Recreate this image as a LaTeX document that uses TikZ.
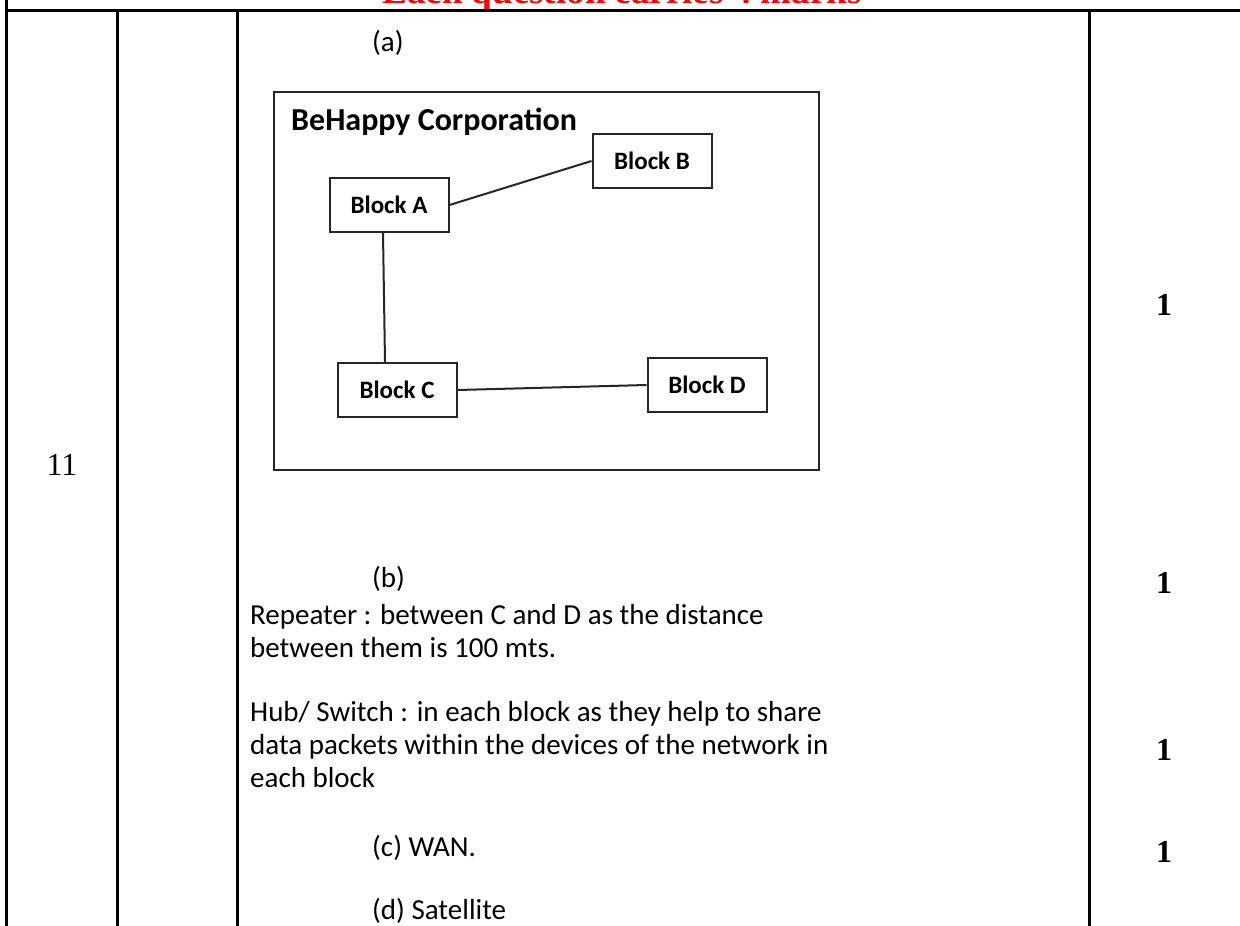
\documentclass[tikz,border=0pt]{standalone}
\usepackage{fontspec}
\setmainfont{Liberation Serif}
\newfontfamily\calibri{Carlito}
\usetikzlibrary{positioning}
\tikzset{rule/.style={line width=3pt},
    block/.style={draw=black!85, line width=2pt, minimum width=119pt,
        minimum height=54pt, font=\calibri\bfseries\fontsize{25}{30}\selectfont},
    link/.style={draw=black!85, line width=2pt},
    answer/.style={inner sep=0pt, align=left,
        font=\calibri\fontsize{29}{33}\selectfont},
    score/.style={font=\bfseries\fontsize{32}{36}\selectfont},
    }
\begin{document}
\begin{tikzpicture}[x=1pt,y=-1pt]
	\useasboundingbox (0,0) rectangle (1240,926);
	\clip (0,0) rectangle (1240,926);
	% table
	\node[anchor=base, red, font=\bfseries\fontsize{37}{40}\selectfont] (hdr) at (622,3) {Each question carries 4 marks};
	\draw[rule] (6,0) -- (6,926);
	\draw[rule] (6,10) -- (1240,10);
	\foreach \x in {117,237,1089}
		\draw[rule] (\x,10) -- (\x,926);
	\node[font=\fontsize{32}{36}\selectfont] (qno) at (62,465) {11};
	\foreach \y/\n in {305/ma,583/mb,750/mc,852/md}
		\node[score] (\n) at (1164,\y) {1};
	% (a) network
	\node[answer, anchor=west] (parta) at (372,43) {(a)};
	\node[draw=black!85, line width=2.2pt, minimum width=545pt, minimum height=378pt] (corp) at (546.5,281) {};
	\node[anchor=base west, inner sep=0pt, font=\calibri\bfseries\fontsize{32}{36}\selectfont] (title) at (291,130) {BeHappy Corporation};
	\node[block] (A) at (389,205) {Block A};
	\node[block] (B) at (652,161) {Block B};
	\node[block] (C) at (397,390) {Block C};
	\node[block] (D) at (707,385) {Block D};
	\draw[link] (A.east) -- (B.west);
	\draw[link] ([xshift=-6pt]A.south) -- ([xshift=-12pt]C.north);
	\draw[link] (C.east) -- (D.west);
	% (b)-(d), base = last line
	\node[answer, anchor=west] (partb) at (372,579) {(b)};
	\node[answer, anchor=base west] (repeater) at (250,657) {Repeater : between C and D as the distance\\between them is 100 mts.};
	\node[answer, anchor=base west] (hub) at (250,787) {Hub/ Switch : in each block as they help to share\\data packets within the devices of the network in\\each block};
	\node[answer, anchor=west] (partc) at (372,848) {(c) WAN.};
	\node[answer, anchor=west] (partd) at (372,911) {(d) Satellite};
\end{tikzpicture}
\end{document}
